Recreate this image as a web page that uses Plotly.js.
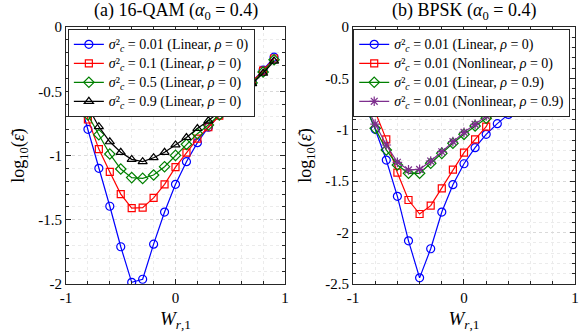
<!DOCTYPE html>
<html>
<head>
<meta charset="utf-8">
<script src="https://cdn.plot.ly/plotly-3.0.1.min.js"></script>
<style>html,body{margin:0;padding:0;background:#fff;}#chart{width:580px;height:335px;}</style>
</head>
<body>
<div id="chart"></div>
<script>
// ---- data ----
const xLeft = [-0.9,-0.8,-0.7,-0.6,-0.5,-0.4,-0.3,-0.2,-0.1,0,0.1,0.2,0.3,0.4,0.5,0.6,0.7,0.8,0.9];
const qamS001 = [-0.50,-0.796,-1.10,-1.395,-1.71,-1.987,-1.963,-1.69,-1.44,-1.224,-1.048,-0.90,-0.78,-0.685,-0.60,-0.51,-0.42,-0.335,-0.235];
const qamS01  = [-0.48,-0.72,-0.95,-1.128,-1.30,-1.41,-1.406,-1.33,-1.224,-1.09,-0.978,-0.869,-0.78,-0.69,-0.60,-0.51,-0.425,-0.34,-0.245];
const qamS05  = [-0.46,-0.685,-0.838,-0.988,-1.105,-1.172,-1.178,-1.152,-1.087,-0.999,-0.913,-0.83,-0.763,-0.685,-0.60,-0.515,-0.435,-0.35,-0.255];
const qamS09  = [-0.45,-0.62,-0.776,-0.893,-0.975,-1.03,-1.048,-1.017,-0.975,-0.918,-0.86,-0.79,-0.73,-0.66,-0.585,-0.505,-0.44,-0.36,-0.265];

const xRight = [-0.9,-0.8,-0.7,-0.6,-0.5,-0.4,-0.3,-0.2,-0.1,0,0.1,0.2,0.3,0.4,0.5,0.6,0.7,0.8,0.9];
const bpskLin0   = [-0.74,-0.995,-1.294,-1.647,-2.08,-2.44,-2.157,-1.80,-1.534,-1.33,-1.174,-1.044,-0.94,-0.85,-0.775,-0.70,-0.63,-0.56,-0.50];
const bpskNon0   = [-0.66,-0.824,-1.093,-1.417,-1.683,-1.819,-1.738,-1.569,-1.388,-1.222,-1.093,-0.97,-0.75,-0.68,-0.62,-0.56,-0.50,-0.45,-0.40];
const bpskLin09  = [-0.742,-0.986,-1.196,-1.342,-1.423,-1.423,-1.326,-1.229,-1.131,-1.044,-0.963,-0.888,-0.817,-0.759,-0.70,-0.65,-0.60,-0.55,-0.50];
const bpskNon09  = [-0.736,-0.944,-1.148,-1.316,-1.39,-1.385,-1.304,-1.213,-1.115,-1.025,-0.947,-0.866,-0.791,-0.73,-0.68,-0.63,-0.58,-0.53,-0.48];

const xTickVals = [-1,0,1];
const xTickText = ['-1','0','1'];
const yLeftVals = [0,-0.5,-1,-1.5,-2];
const yLeftText = ['0','-0.5','-1','-1.5','-2'];
const yRightVals = [0,-0.5,-1,-1.5,-2,-2.5];
const yRightText = ['0','-0.5','-1','-1.5','-2','-2.5'];

const namesLeft = [
  '<i>σ</i>²<sub><i>c</i></sub> = 0.01 (Linear, <i>ρ</i> = 0)',
  '<i>σ</i>²<sub><i>c</i></sub> = 0.1 (Linear, <i>ρ</i> = 0)',
  '<i>σ</i>²<sub><i>c</i></sub> = 0.5 (Linear, <i>ρ</i> = 0)',
  '<i>σ</i>²<sub><i>c</i></sub> = 0.9 (Linear, <i>ρ</i> = 0)'
];
const namesRight = [
  '<i>σ</i>²<sub><i>c</i></sub> = 0.01 (Linear, <i>ρ</i> = 0)',
  '<i>σ</i>²<sub><i>c</i></sub> = 0.01 (Nonlinear, <i>ρ</i> = 0)',
  '<i>σ</i>²<sub><i>c</i></sub> = 0.01 (Linear, <i>ρ</i> = 0.9)',
  '<i>σ</i>²<sub><i>c</i></sub> = 0.01 (Nonlinear, <i>ρ</i> = 0.9)'
];

// ---- styling ----
const FONT = "'Liberation Serif', 'DejaVu Serif', serif";
const cBlue = '#0000ff', cRed = '#ff0000', cGreen = '#008000', cBlack = '#000000', cPurple = '#7e2f8e';
const sized = s => '<span style="font-size:14px">' + s + '</span>';

function tr(x, y, name, color, symbol, xa, ya, leg, msize) {
  return {
    x: x, y: y, name: sized(name), type: 'scatter', mode: 'lines+markers',
    xaxis: xa, yaxis: ya, legend: leg,
    line: {color: color, width: 1.2},
    marker: {symbol: symbol, size: msize || 8, color: color, line: {color: color, width: 1.2}},
    cliponaxis: true
  };
}

const traces = [
  tr(xLeft, qamS001, namesLeft[0], cBlue, 'circle-open', 'x', 'y', 'legend'),
  tr(xLeft, qamS01, namesLeft[1], cRed, 'square-open', 'x', 'y', 'legend', 7),
  tr(xLeft, qamS05, namesLeft[2], cGreen, 'diamond-open', 'x', 'y', 'legend'),
  tr(xLeft, qamS09, namesLeft[3], cBlack, 'triangle-up-open', 'x', 'y', 'legend'),
  tr(xRight, bpskLin0, namesRight[0], cBlue, 'circle-open', 'x2', 'y2', 'legend2'),
  tr(xRight, bpskNon0, namesRight[1], cRed, 'square-open', 'x2', 'y2', 'legend2', 7),
  tr(xRight, bpskLin09, namesRight[2], cGreen, 'diamond-open', 'x2', 'y2', 'legend2'),
  tr(xRight, bpskNon09, namesRight[3], cPurple, 'asterisk-open', 'x2', 'y2', 'legend2', 8)
];

function axis(domain, range, vals, text, anchor, minorDtick, extra) {
  return Object.assign({
    domain: domain, range: range, anchor: anchor,
    tickmode: 'array', tickvals: vals, ticktext: text,
    ticks: 'inside', ticklen: 5, tickcolor: '#262626', tickwidth: 1,
    showline: true, linecolor: '#262626', linewidth: 1, mirror: 'ticks',
    showgrid: true, gridcolor: '#d9d9d9', griddash: 'dot', gridwidth: 1,
    zeroline: false,
    tickfont: {family: FONT, size: 15, color: '#000'},
    minor: {dtick: minorDtick, tick0: 0, showgrid: true, gridcolor: '#ebebeb', griddash: 'dot', ticks: 'inside', ticklen: 3, tickcolor: '#262626'}
  }, extra || {});
}

const xTitle = {text: '<i>W</i><sub><i>r</i>,1</sub>', font: {family: FONT, size: 19, color: '#000'}, standoff: 6};
const yTitle = {text: 'log<sub>10</sub>(<i>ε̄</i>)', font: {family: FONT, size: 18, color: '#000'}, standoff: 8};

const layout = {
  width: 580, height: 335,
  margin: {l: 0, r: 0, t: 0, b: 0},
  paper_bgcolor: '#fff', plot_bgcolor: '#fff',
  font: {family: FONT, color: '#000'},
  xaxis: axis([0.1138, 0.4914], [-1, 1], xTickVals, xTickText, 'y', 0.2, {title: xTitle}),
  yaxis: axis([0.1522, 0.9194], [-2, 0], yLeftVals, yLeftText, 'x', 0.1, {title: yTitle}),
  xaxis2: axis([0.6086, 0.9914], [-1, 1], xTickVals, xTickText, 'y2', 0.2, {title: xTitle}),
  yaxis2: axis([0.1522, 0.9194], [-2.5, 0], yRightVals, yRightText, 'x2', 0.1, {title: yTitle}),
  legend: {
    x: 0.117, y: 0.914, xanchor: 'left', yanchor: 'top',
    bgcolor: '#fff', bordercolor: '#262626', borderwidth: 1,
    font: {family: FONT, size: 12, color: '#000'},
    itemwidth: 30, tracegroupgap: 0, traceorder: 'normal'
  },
  legend2: {
    x: 0.609, y: 0.914, xanchor: 'left', yanchor: 'top',
    bgcolor: '#fff', bordercolor: '#262626', borderwidth: 1,
    font: {family: FONT, size: 12, color: '#000'},
    itemwidth: 30, tracegroupgap: 0, traceorder: 'normal'
  },
  annotations: [
    {text: '(a) 16-QAM (<i>α</i><sub>0</sub> = 0.4)', xref: 'paper', yref: 'paper', x: 0.3026, y: 0.9194, xanchor: 'center', yanchor: 'bottom', yshift: 2, showarrow: false, font: {family: FONT, size: 18, color: '#000'}},
    {text: '(b) BPSK (<i>α</i><sub>0</sub> = 0.4)', xref: 'paper', yref: 'paper', x: 0.8, y: 0.9194, xanchor: 'center', yanchor: 'bottom', yshift: 2, showarrow: false, font: {family: FONT, size: 18, color: '#000'}}
  ],
  showlegend: true
};

Plotly.newPlot('chart', traces, layout, {displayModeBar: false, staticPlot: true});
</script>
</body>
</html>
